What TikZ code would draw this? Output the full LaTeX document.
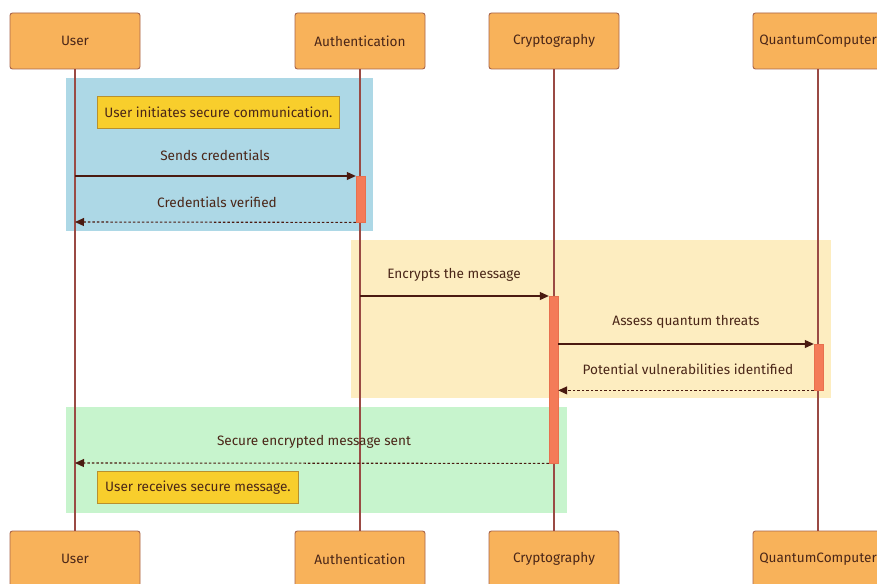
\documentclass[tikz,border=0pt]{standalone}
\usepackage{fontspec}
\setmainfont{Fira Sans}
\usetikzlibrary{arrows.meta}
\definecolor{actorfill}{HTML}{F8B25A}
\definecolor{actorline}{HTML}{A8644A}
\definecolor{lifeline}{HTML}{9A4A44}
\definecolor{inktext}{HTML}{4A2618}
\definecolor{arrowink}{HTML}{4A1A10}
\definecolor{actfill}{HTML}{F47B58}
\definecolor{actline}{HTML}{E8704E}
\definecolor{notefill}{HTML}{F8CE2C}
\definecolor{noteline}{HTML}{B8902E}
\definecolor{bandblue}{HTML}{ADD8E6}
\definecolor{bandyellow}{HTML}{FDEDC0}
\definecolor{bandgreen}{HTML}{C7F4CD}
\tikzset{
  txt/.style={font=\fontsize{13.6}{16}\selectfont},
  actor/.style={txt, draw=actorline, fill=actorfill, rounded corners=2.5pt, line width=0.9pt,
    minimum width=130pt, minimum height=56pt, inner sep=0pt, text=inktext},
  lifeln/.style={draw=lifeline, line width=1.2pt},
  actbar/.style={draw=actline, fill=actfill, minimum width=9pt, inner sep=0pt, anchor=north},
  note/.style={txt, draw=noteline, fill=notefill, line width=0.8pt, inner sep=0pt, text=inktext,
    anchor=north west, minimum height=32pt},
  msg/.style={draw=arrowink, line width=1.1pt, -{Triangle[length=9pt,width=8pt]}},
  reply/.style={msg, dash pattern=on 2.5pt off 2pt},
  lbl/.style={txt, text=inktext, inner sep=0pt}
}
\begin{document}
\begin{tikzpicture}[x=1pt,y=-1pt]
\useasboundingbox (0,0) rectangle (877,583);
\clip (0,0) rectangle (877,583);
\fill[white] (0,0) rectangle (877,583);

% group backgrounds
\fill[bandblue] (66,78) rectangle (373,231);
\fill[bandyellow] (351,240) rectangle (831,398);
\fill[bandgreen] (66,407) rectangle (567,513);

% participants, top and bottom
\node[actor] (userT) at (75,41) {User};
\node[actor] (authT) at (360,41) {Authentication};
\node[actor] (cryT) at (554,41) {Cryptography};
\node[actor] (qcT) at (818,41) {QuantumComputer};
\node[actor] (userB) at (75,559) {User};
\node[actor] (authB) at (360,559) {Authentication};
\node[actor] (cryB) at (554,559) {Cryptography};
\node[actor] (qcB) at (818,559) {QuantumComputer};

% lifelines
\draw[lifeln] (userT.south) -- (userB.north);
\draw[lifeln] (authT.south) -- (authB.north);
\draw[lifeln] (cryT.south) -- (cryB.north);
\draw[lifeln] (qcT.south) -- (qcB.north);

% activations
\node[actbar, minimum height=46pt] (authAct) at (360.5,176) {};
\node[actbar, minimum height=167pt] (cryAct) at (553.5,296) {};
\node[actbar, minimum height=46pt] (qcAct) at (818.5,344) {};

% notes
\node[note, minimum width=242pt] (n1) at (97,96) {User initiates secure communication.};
\node[note, minimum width=201pt] (n2) at (97,471) {User receives secure message.};

% message anchors on the lifelines
\coordinate (u1) at (userT.south |- 0,176);
\coordinate (u2) at (userT.south |- 0,222);
\coordinate (a3) at (authT.south |- 0,296);
\coordinate (u6) at (userT.south |- 0,463);

% messages
\draw[msg] (u1) -- (authAct.north west);
\node[lbl] (l1) at (215,155) {Sends credentials};
\draw[reply] (authAct.south west) -- (u2);
\node[lbl] (l2) at (217,202) {Credentials verified};
\draw[msg] (a3) -- (cryAct.north west);
\node[lbl] (l3) at (454,275) {Encrypts the message};
\draw[msg] (cryAct.east |- qcAct.north) -- (qcAct.north west);
\node[lbl] (l4) at (686,322) {Assess quantum threats};
\draw[reply] (qcAct.south west) -- (cryAct.east |- qcAct.south);
\node[lbl] (l5) at (688,369) {Potential vulnerabilities identified};
\draw[reply] (cryAct.south west) -- (u6);
\node[lbl] (l6) at (314,442) {Secure encrypted message sent};
\end{tikzpicture}
\end{document}
